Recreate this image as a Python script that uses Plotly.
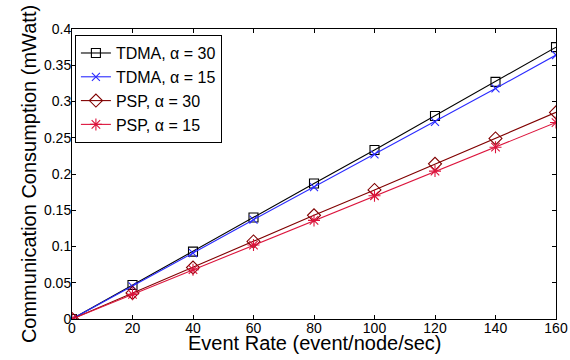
import plotly.graph_objects as go

event_rate = [0, 20, 40, 60, 80, 100, 120, 140, 160]
tdma_30 = [0, 0.047, 0.093, 0.140, 0.187, 0.233, 0.280, 0.327, 0.375]
tdma_15 = [0, 0.045, 0.091, 0.137, 0.182, 0.227, 0.272, 0.318, 0.364]
psp_30 = [0, 0.036, 0.071, 0.107, 0.143, 0.178, 0.214, 0.249, 0.285]
psp_15 = [0, 0.034, 0.068, 0.102, 0.136, 0.170, 0.204, 0.237, 0.271]
names = ["TDMA, α = 30", "TDMA, α = 15", "PSP, α = 30", "PSP, α = 15"]
series = [tdma_30, tdma_15, psp_30, psp_15]
colors = ["#000000", "#2a2aff", "#800000", "#dc143c"]
symbols = ["square-open", "x-thin-open", "diamond-open", "asterisk-open"]
sizes = [9, 8, 10, 10]
x_title = "Event Rate (event/node/sec)"
y_title = "Communication Consumption (mWatt)"

FONT = "Liberation Sans, Arial, sans-serif"

fig = go.Figure()
for n, s, c, m, sz in zip(names, series, colors, symbols, sizes):
    fig.add_trace(go.Scatter(
        x=event_rate, y=s, name=n, mode="lines+markers",
        line=dict(color=c, width=1.1),
        marker=dict(symbol=m, size=sz, color=c, line=dict(color=c, width=1.1)),
    ))

axis_common = dict(
    showgrid=False, zeroline=False, showline=True, linecolor="black", linewidth=1,
    mirror="ticks", ticks="inside", ticklen=4, tickcolor="black", automargin=False,
    tickfont=dict(family=FONT, size=14, color="black"),
)
fig.update_xaxes(range=[0, 160], tickvals=[0, 20, 40, 60, 80, 100, 120, 140, 160],
                 ticklabelstandoff=-4, **axis_common)
fig.update_yaxes(range=[0, 0.4], tickvals=[0, 0.05, 0.1, 0.15, 0.2, 0.25, 0.3, 0.35, 0.4],
                 ticktext=["0", "0.05", "0.1", "0.15", "0.2", "0.25", "0.3", "0.35", "0.4"],
                 ticklabelstandoff=-3,
                 title=dict(text=y_title, standoff=1,
                            font=dict(family=FONT, size=20, color="black")),
                 **axis_common)
fig.add_annotation(text=x_title, xref="paper", yref="paper", x=0.5, y=-0.083,
                   xanchor="center", yanchor="middle", showarrow=False,
                   font=dict(family=FONT, size=20, color="black"))
fig.update_layout(
    width=570, height=360,
    margin=dict(l=72, r=14, t=29, b=41),
    plot_bgcolor="white", paper_bgcolor="white",
    font=dict(family=FONT, color="black"),
    legend=dict(x=0.006, y=0.979, xanchor="left", yanchor="top",
                bgcolor="white", bordercolor="black", borderwidth=1,
                font=dict(family=FONT, size=16, color="black"),
                tracegroupgap=0, itemwidth=30),
    showlegend=True,
)
fig.write_html("out.html", config={"displayModeBar": False},
               post_script="document.body.style.margin='0';")
